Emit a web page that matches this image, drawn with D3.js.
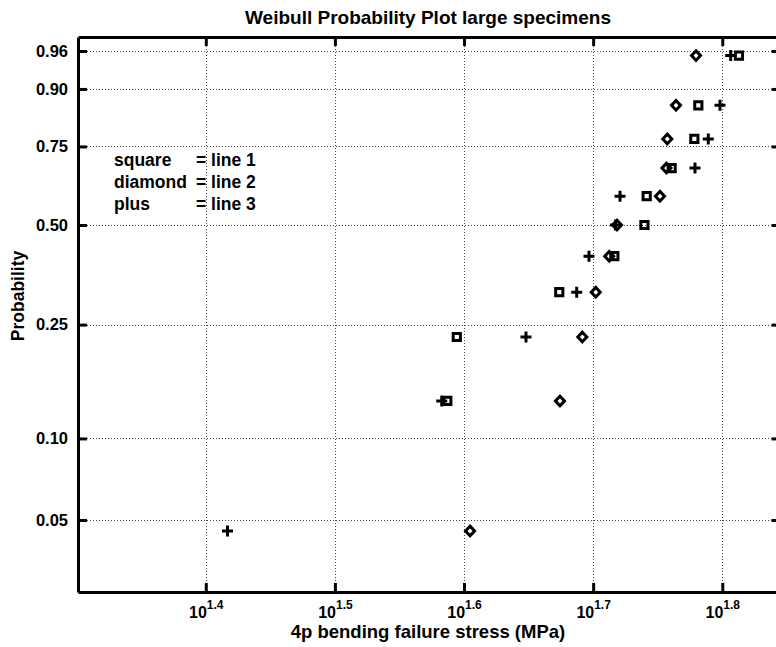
<!DOCTYPE html>
<meta charset="utf-8">
<script src="https://cdn.jsdelivr.net/npm/d3@7"></script>
<style>
	body { margin: 0; background: #fff; }
	text { font-family: "Liberation Sans", Arial, sans-serif; font-weight: bold; fill: #000; }
</style>

<div id="vis-weibull"></div>

<script>
	// plotting positions (median ranks of the 11 specimens)
	const probs = [0.0455, 0.1364, 0.2273, 0.3182, 0.4091, 0.5, 0.5909, 0.6818, 0.7727, 0.8636, 0.9545]

	// failure stress in MPa, one value per rank (null = not visible in the plot)
	const line1 = [null, 38.64, 39.30, 47.18, 52.05, 54.92, 55.14, 57.65, 60.03, 60.46, 65.00]
	const line2 = [40.24, 47.24, 49.16, 50.35, 51.58, 52.30, 56.46, 57.12, 57.20, 58.10, 60.21]
	const line3 = [26.11, 38.26, 44.46, 48.67, 49.75, 52.16, 52.58, 60.10, 61.54, 62.84, 64.05]

	const legendNames = ['square', 'diamond', 'plus']
	const legendLines = ['= line 1', '= line 2', '= line 3']

	const xTicks = [Math.pow(10, 1.4), Math.pow(10, 1.5), Math.pow(10, 1.6), Math.pow(10, 1.7), Math.pow(10, 1.8)]
	const xTickExp = ['1.4', '1.5', '1.6', '1.7', '1.8']
	const yTicks = [0.05, 0.10, 0.25, 0.50, 0.75, 0.90, 0.96]
	const yTickLabels = ['0.05', '0.10', '0.25', '0.50', '0.75', '0.90', '0.96']
	const xLim = [20, 70]
	const yLim = [0.0268, 0.9738]

	let width = 776,
		height = 647;
	let mLeft = 78, mRight = 780.5, mTop = 37, mBottom = 592;

	// weibull paper: y = ln(-ln(1-p))
	function wbl(p) { return Math.log(-Math.log(1 - p)) }

	const x = d3.scaleLog().domain(xLim).range([mLeft, mRight])
	const y = d3.scaleLinear().domain([wbl(yLim[0]), wbl(yLim[1])]).range([mBottom, mTop])

	const svg = d3.select("#vis-weibull")
		.append("svg")
		.attr("width", width)
		.attr("height", height)

	svg.append("rect").attr("width", width).attr("height", height).attr("fill", "#fff")

	// grid
	const grid = svg.append("g").attr("stroke", "#444").attr("stroke-width", 1).attr("stroke-dasharray", "1,2")
	grid.selectAll("line.gx").data(xTicks).enter()
		.append("line").attr("class", "gx")
		.attr("x1", d => Math.round(x(d)) + 0.5).attr("x2", d => Math.round(x(d)) + 0.5)
		.attr("y1", mTop).attr("y2", mBottom)
	grid.selectAll("line.gy").data(yTicks).enter()
		.append("line").attr("class", "gy")
		.attr("x1", mLeft).attr("x2", mRight)
		.attr("y1", d => Math.round(y(wbl(d))) + 0.5).attr("y2", d => Math.round(y(wbl(d))) + 0.5)

	// axes (ticks point inward like matlab)
	function styleAxis(g) {
		g.attr("font-family", null).attr("font-size", null)
		g.select(".domain").attr("stroke-width", 3)
		g.selectAll(".tick line").attr("stroke-width", 3)
	}

	const xAxis = svg.append("g").attr("transform", `translate(0,${mBottom})`)
		.call(d3.axisBottom(x).tickValues(xTicks).tickSizeInner(-9).tickSizeOuter(0).tickFormat(""))
	styleAxis(xAxis)
	xAxis.selectAll(".tick text").remove()
	xAxis.selectAll(".tick").append("text")
		.attr("y", 26)
		.attr("text-anchor", "middle")
		.style("font-size", "16px")
		.each(function (d, i) {
			const t = d3.select(this)
			t.append("tspan").text("10")
			t.append("tspan").attr("dy", -9).style("font-size", "12px").text(xTickExp[i])
		})

	const xTop = svg.append("g").attr("transform", `translate(0,${mTop})`)
		.call(d3.axisTop(x).tickValues(xTicks).tickSizeInner(-9).tickSizeOuter(0).tickFormat(""))
	styleAxis(xTop)

	const yAxis = svg.append("g").attr("transform", `translate(${mLeft},0)`)
		.call(d3.axisLeft(y).tickValues(yTicks.map(wbl)).tickSizeInner(-9).tickSizeOuter(0)
			.tickPadding(10).tickFormat((d, i) => yTickLabels[i]))
	styleAxis(yAxis)
	yAxis.selectAll(".tick text").style("font-size", "16.5px")

	const yRight = svg.append("g").attr("transform", `translate(${mRight},0)`)
		.call(d3.axisRight(y).tickValues(yTicks.map(wbl)).tickSizeInner(-9).tickSizeOuter(0).tickFormat(""))
	styleAxis(yRight)

	// markers
	const markers = {
		square: "M-3.6,-3.6H3.6V3.6H-3.6Z",
		diamond: "M0,-4.8L4.5,0L0,4.8L-4.5,0Z",
		plus: "M-5.5,0H5.5M0,-5.5V5.5"
	}
	const series = [
		{ values: line1, shape: "square" },
		{ values: line2, shape: "diamond" },
		{ values: line3, shape: "plus" }
	]
	series.forEach(s => {
		const pts = s.values.map((v, i) => ({ v: v, p: probs[i] })).filter(d => d.v != null)
		svg.append("g").selectAll("path").data(pts).enter()
			.append("path")
			.attr("d", markers[s.shape])
			.attr("transform", d => `translate(${x(d.v)},${y(wbl(d.p))})`)
			.attr("fill", "none")
			.attr("stroke", "#000")
			.attr("stroke-width", 3)
	})

	// legend text inside the plot
	const leg = svg.append("g").style("font-size", "17.5px")
	legendNames.forEach((n, i) => {
		leg.append("text").attr("x", 114).attr("y", 166 + i * 22).text(n)
		leg.append("text").attr("x", 196).attr("y", 166 + i * 22).text(legendLines[i])
	})

	// labels
	svg.append("text").attr("x", 428).attr("y", 24).attr("text-anchor", "middle")
		.style("font-size", "19px").text("Weibull Probability Plot large specimens")
	svg.append("text").attr("x", 428).attr("y", 638).attr("text-anchor", "middle")
		.style("font-size", "18.5px").text("4p bending failure stress (MPa)")
	svg.append("text").attr("transform", "translate(24,296) rotate(-90)").attr("text-anchor", "middle")
		.style("font-size", "17.5px").text("Probability")
</script>
